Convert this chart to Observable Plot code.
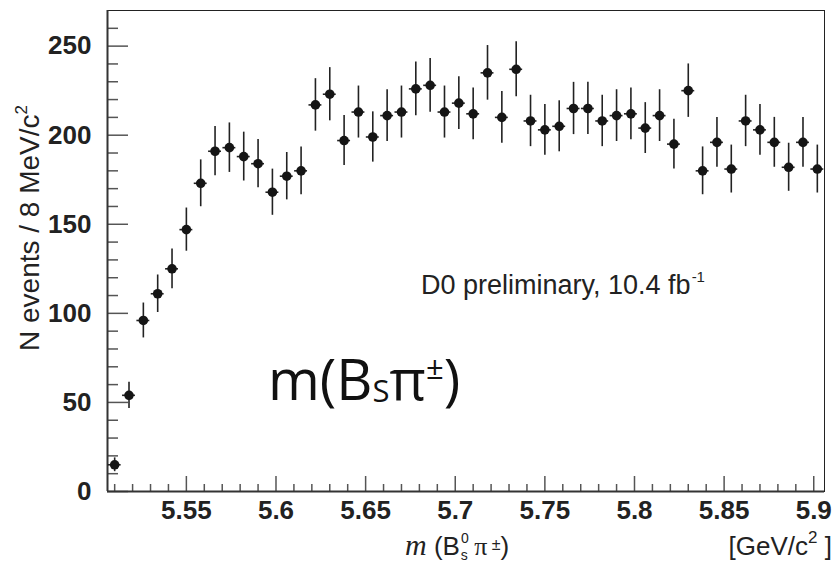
<!DOCTYPE html>
<html><head><meta charset="utf-8">
<script src="https://cdn.jsdelivr.net/npm/d3@7"></script>
<script src="https://cdn.jsdelivr.net/npm/@observablehq/plot@0.6"></script>
<style>body{margin:0;background:#fff}#chart svg{display:block}</style>
</head><body><div id="chart"></div>
<script>
// bin centres (GeV/c^2), 8 MeV bins
const binCenters = [5.510,5.518,5.526,5.534,5.542,5.550,5.558,5.566,5.574,5.582,
  5.590,5.598,5.606,5.614,5.622,5.630,5.638,5.646,5.654,5.662,
  5.670,5.678,5.686,5.694,5.702,5.710,5.718,5.726,5.734,5.742,
  5.750,5.758,5.766,5.774,5.782,5.790,5.798,5.806,5.814,5.822,
  5.830,5.838,5.846,5.854,5.862,5.870,5.878,5.886,5.894,5.902];
// events per bin
const counts = [15,54,96,111,125,147,173,191,193,188,
  184,168,177,180,217,223,197,213,199,211,
  213,226,228,213,218,212,235,210,237,208,
  203,205,215,215,208,211,212,204,211,195,
  225,180,196,181,208,203,196,182,196,181];
const binHalf = 0.0036;
const xDomain = [5.506, 5.906];
const yDomain = [0, 270];
const xMajor = [5.55,5.6,5.65,5.7,5.75,5.8,5.85,5.9];
const xTickLabels = ["5.55","5.6","5.65","5.7","5.75","5.8","5.85","5.9"];
const xMinor = [5.51,5.52,5.53,5.54,5.56,5.57,5.58,5.59,5.61,5.62,5.63,5.64,5.66,5.67,5.68,5.69,
  5.71,5.72,5.73,5.74,5.76,5.77,5.78,5.79,5.81,5.82,5.83,5.84,5.86,5.87,5.88,5.89];
const yMajor = [0,50,100,150,200,250];
const yTickLabels = ["0","50","100","150","200","250"];
const yMinor = [10,20,30,40,60,70,80,90,110,120,130,140,160,170,180,190,210,220,230,240,260];

const W = 834, H = 563, mL = 107, mR = 10, mT = 10, mB = 72;
const plotW = W - mL - mR, plotH = H - mT - mB;
const data = binCenters.map((x, i) => ({x, n: counts[i]}));
const tickStyle = {stroke: "#555", strokeWidth: 1.5};

const plot = Plot.plot({
  width: W, height: H,
  marginLeft: mL, marginRight: mR, marginTop: mT, marginBottom: mB,
  x: {domain: xDomain},
  y: {domain: yDomain},
  style: {fontFamily: "'Liberation Sans', Arial, sans-serif", background: "#fff", color: "#222"},
  marks: [
    Plot.tickY(yMinor, {y: d => d, insetRight: plotW - 11, ...tickStyle}),
    Plot.tickY(yMajor, {y: d => d, insetRight: plotW - 21, ...tickStyle}),
    Plot.tickX(xMinor, {x: d => d, insetTop: plotH - 7, ...tickStyle}),
    Plot.tickX(xMajor, {x: d => d, insetTop: plotH - 15, ...tickStyle}),
    Plot.frame({stroke: "#222", strokeWidth: 1}),
    Plot.ruleY([yDomain[0]], {stroke: "#333", strokeWidth: 2}),
    Plot.ruleX([xDomain[0]], {stroke: "#333", strokeWidth: 2}),
    Plot.axisY({ticks: yMajor, tickSize: 0, tickPadding: 16, fontSize: 26, fontWeight: "bold",
      label: null, tickFormat: d => yTickLabels[yMajor.indexOf(d)]}),
    Plot.axisX({ticks: xMajor, tickSize: 0, tickPadding: 9, fontSize: 26, fontWeight: "bold",
      label: null, tickFormat: d => xTickLabels[xMajor.indexOf(d)]}),
    Plot.ruleX(data, {x: "x", y1: d => d.n - Math.sqrt(d.n), y2: d => d.n + Math.sqrt(d.n), stroke: "#222", strokeWidth: 1.6}),
    Plot.ruleY(data, {y: "n", x1: d => d.x - binHalf, x2: d => d.x + binHalf, stroke: "#222", strokeWidth: 1.6}),
    Plot.dot(data, {x: "x", y: "n", r: 4.8, fill: "#151515", stroke: "none"})
  ]
});
document.getElementById("chart").appendChild(plot);

const svg = d3.select(plot);
const sans = "'Liberation Sans', Arial, sans-serif";
// y-axis title
const yt = svg.append("text")
  .attr("transform", "translate(39,228) rotate(-90)")
  .attr("text-anchor", "middle")
  .attr("font-family", sans).attr("font-size", 28).attr("fill", "#222");
yt.append("tspan").text("N events / 8 MeV/c");
yt.append("tspan").attr("font-size", 17).attr("dy", -12).text("2");

// x-axis title
const xt = svg.append("text").attr("x", 405).attr("y", 555).attr("text-anchor", "start")
  .attr("font-family", sans).attr("font-size", 26).attr("fill", "#222");
xt.append("tspan").attr("font-family", "'Liberation Serif', serif").attr("font-style", "italic").attr("font-size", 30).text("m");
xt.append("tspan").text(" (B");
xt.append("tspan").attr("font-size", 14).attr("dy", -12).attr("dx", 1).text("0");
xt.append("tspan").attr("font-size", 14).attr("dx", -8).attr("dy", 17).text("s");
xt.append("tspan").attr("font-family", "'Liberation Serif', serif").attr("dy", -5).text(" \u03c0");
xt.append("tspan").attr("font-size", 16).attr("dy", -5).text(" \u00b1");
xt.append("tspan").attr("dy", 5).text(")");

const ut = svg.append("text").attr("x", 832).attr("y", 555).attr("text-anchor", "end")
  .attr("font-family", sans).attr("font-size", 26).attr("fill", "#222");
ut.append("tspan").text("[GeV/c");
ut.append("tspan").attr("font-size", 17).attr("dy", -12).text("2");
ut.append("tspan").attr("dy", 12).text(" ]");

// annotation
const an = svg.append("text").attr("x", 421).attr("y", 294).attr("text-anchor", "start")
  .attr("font-family", sans).attr("font-size", 27).attr("fill", "#222");
an.append("tspan").text("D0 preliminary, 10.4 fb");
an.append("tspan").attr("font-size", 15).attr("dy", -12).attr("dx", 1).text("-1");

// big label
const bl = svg.append("text").attr("x", 268).attr("y", 400).attr("text-anchor", "start")
  .attr("font-family", "'Open Sans', 'Noto Sans', sans-serif").attr("font-size", 56).attr("fill", "#111");
bl.append("tspan").text("m(B");
bl.append("tspan").attr("font-size", 31).attr("dy", 2).text("S");
bl.append("tspan").attr("dy", -2).text("\u03c0");
bl.append("tspan").attr("font-size", 31).attr("dy", -21).text("\u00b1");
bl.append("tspan").attr("dy", 21).text(")");
</script></body></html>
